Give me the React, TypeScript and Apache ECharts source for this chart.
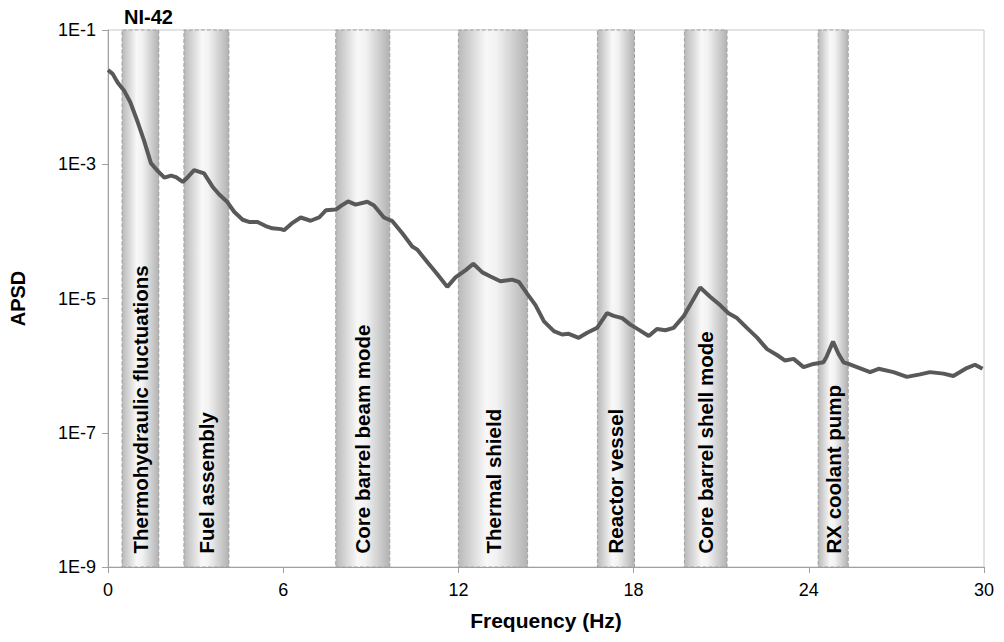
import React, { useEffect, useRef } from "react";
import * as echarts from "echarts";

const freq = [0, 0.16, 0.33, 0.56, 0.76, 1.02, 1.24, 1.47, 1.7, 1.93, 2.16, 2.33, 2.56, 2.73, 2.95, 3.29, 3.58, 3.81, 4.07, 4.32, 4.61, 4.83, 5.12, 5.4, 5.63, 5.92, 6.03, 6.32, 6.6, 6.94, 7.23, 7.46, 7.8, 8.03, 8.22, 8.48, 8.88, 9.11, 9.45, 9.74, 10.08, 10.42, 10.59, 10.94, 11.28, 11.62, 11.9, 12.25, 12.51, 12.82, 13.1, 13.44, 13.84, 14.07, 14.36, 14.64, 14.93, 15.27, 15.55, 15.78, 16.12, 16.41, 16.75, 17.09, 17.32, 17.61, 17.89, 18.17, 18.52, 18.8, 19.09, 19.37, 19.71, 20.0, 20.28, 20.62, 20.96, 21.25, 21.54, 21.88, 22.23, 22.57, 22.91, 23.19, 23.48, 23.82, 24.16, 24.5, 24.6, 24.83, 25.02, 25.19, 25.36, 25.65, 26.1, 26.39, 26.9, 27.36, 27.81, 28.15, 28.61, 28.95, 29.41, 29.69, 29.95];

const apsd = [2.53e-2, 2.22e-2, 1.65e-2, 1.23e-2, 8.45e-3, 4.22e-3, 2.21e-3, 1.04e-3, 7.97e-4, 6.3e-4, 6.78e-4, 6.41e-4, 5.45e-4, 6.41e-4, 8.15e-4, 7.3e-4, 4.63e-4, 3.54e-4, 2.79e-4, 1.96e-4, 1.49e-4, 1.38e-4, 1.38e-4, 1.2e-4, 1.11e-4, 1.08e-4, 1.04e-4, 1.34e-4, 1.61e-4, 1.44e-4, 1.61e-4, 2.06e-4, 2.11e-4, 2.48e-4, 2.79e-4, 2.5e-4, 2.76e-4, 2.43e-4, 1.61e-4, 1.42e-4, 9.4e-5, 5.96e-5, 5.35e-5, 3.46e-5, 2.3e-5, 1.49e-5, 2.06e-5, 2.65e-5, 3.29e-5, 2.45e-5, 2.13e-5, 1.81e-5, 1.91e-5, 1.77e-5, 1.17e-5, 7.98e-6, 4.57e-6, 3.27e-6, 2.91e-6, 2.98e-6, 2.6e-6, 3.08e-6, 3.65e-6, 6.04e-6, 5.52e-6, 5.11e-6, 4.08e-6, 3.44e-6, 2.76e-6, 3.52e-6, 3.37e-6, 3.65e-6, 5.41e-6, 8.95e-6, 1.46e-5, 1.06e-5, 7.98e-6, 6.04e-6, 5.11e-6, 3.65e-6, 2.61e-6, 1.76e-6, 1.44e-6, 1.19e-6, 1.26e-6, 9.5e-7, 1.06e-6, 1.12e-6, 1.33e-6, 2.28e-6, 1.49e-6, 1.12e-6, 1.06e-6, 9.5e-7, 8.0e-7, 8.97e-7, 8.0e-7, 6.8e-7, 7.4e-7, 8.0e-7, 7.6e-7, 7.0e-7, 9.2e-7, 1.03e-6, 8.97e-7];

const bandNames = ["Thermohydraulic fluctuations", "Fuel assembly", "Core barrel beam mode", "Thermal shield", "Reactor vessel", "Core barrel shell mode", "RX coolant pump"];
const bandStart = [0.48, 2.6, 7.8, 12.0, 16.76, 19.74, 24.32];
const bandEnd = [1.74, 4.14, 9.65, 14.37, 18.03, 21.2, 25.35];

const FONT = "'Liberation Sans', Arial, sans-serif";

export default function App() {
  const ref = useRef<HTMLDivElement>(null);
  useEffect(() => {
    if (!ref.current) return;
    const chart = echarts.init(ref.current, null, { renderer: "svg" });
    const gradient = new echarts.graphic.LinearGradient(0, 0, 1, 0, [
      { offset: 0, color: "#b9b9b9" },
      { offset: 0.4, color: "#f8f8f8" },
      { offset: 0.55, color: "#f2f2f2" },
      { offset: 1, color: "#b2b2b2" },
    ]);
    chart.setOption({
      animation: false,
      backgroundColor: "#ffffff",
      title: {
        text: "NI-42",
        left: 119,
        top: 2,
        textStyle: { fontFamily: FONT, fontWeight: "bold", fontSize: 20, color: "#000" },
      },
      grid: {
        left: 107,
        right: 20,
        top: 30,
        bottom: 75,
        show: true,
        borderColor: "#c8c8c8",
        borderWidth: 1,
      },
      xAxis: {
        type: "value",
        min: 0,
        max: 30,
        interval: 6,
        name: "Frequency (Hz)",
        nameLocation: "middle",
        nameGap: 43,
        nameTextStyle: { fontFamily: FONT, fontWeight: "bold", fontSize: 21, color: "#000" },
        axisLine: { show: true, lineStyle: { color: "#a0a0a0", width: 1 } },
        axisTick: { show: true, length: 6, lineStyle: { color: "#a0a0a0" } },
        axisLabel: { margin: 14, fontFamily: FONT, fontSize: 18, color: "#000" },
        splitLine: { show: false },
      },
      yAxis: {
        type: "log",
        logBase: 10,
        min: 1e-9,
        max: 1e-1,
        interval: 2,
        name: "APSD",
        nameLocation: "middle",
        nameGap: 80,
        nameTextStyle: { fontFamily: FONT, fontWeight: "bold", fontSize: 20, color: "#000" },
        axisLine: { show: true, lineStyle: { color: "#a0a0a0", width: 1 } },
        axisTick: { show: true, length: 6, lineStyle: { color: "#a0a0a0" } },
        axisLabel: {
          margin: 12,
          fontFamily: FONT,
          fontSize: 18,
          color: "#000",
          formatter: (v: number) => "1E" + Math.round(Math.log10(v)),
        },
        splitLine: { show: false },
        minorTick: { show: false },
      },
      series: [
        {
          type: "line",
          data: freq.map((f, i) => [f, apsd[i]]),
          showSymbol: false,
          lineStyle: { color: "#595959", width: 4 },
          z: 5,
          markArea: {
            silent: true,
            itemStyle: {
              color: gradient,
              borderColor: "#a0a0a0",
              borderWidth: 1,
              borderType: "dashed",
            },
            label: {
              show: true,
              position: "insideBottom",
              rotate: 90,
              align: "left",
              verticalAlign: "middle",
              distance: 14,
              fontFamily: FONT,
              fontWeight: "bold",
              fontSize: 20.5,
              color: "#000",
            },
            data: bandNames.map((n, i) => [
              { name: n, xAxis: bandStart[i] },
              { xAxis: bandEnd[i] },
            ]),
          },
        },
      ],
    });
    return () => chart.dispose();
  }, []);
  return <div ref={ref} style={{ width: 1004, height: 642, position: "absolute", left: 0, top: 0 }} />;
}
